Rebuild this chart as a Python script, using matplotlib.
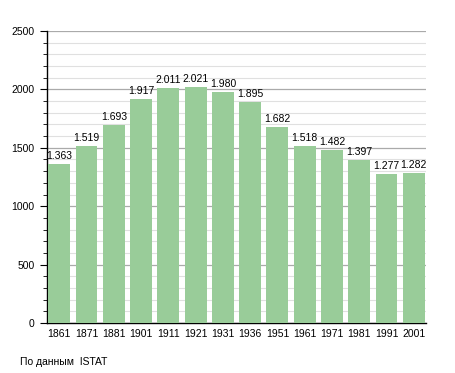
import matplotlib
matplotlib.use("Agg")
import matplotlib.pyplot as plt
from matplotlib.ticker import MultipleLocator

years = ["1861", "1871", "1881", "1901", "1911", "1921", "1931", "1936",
         "1951", "1961", "1971", "1981", "1991", "2001"]
population = [1363, 1519, 1693, 1917, 2011, 2021, 1980, 1895,
              1682, 1518, 1482, 1397, 1277, 1282]
source_text = "По данным  ISTAT"

plt.rcParams['font.family'] = ['Liberation Sans', 'DejaVu Sans']

fig = plt.figure(figsize=(4.55, 3.73), dpi=100)
ax = fig.add_axes([47/455, 1-323/373, (426-47)/455, (323-31)/373])

x = list(range(len(years)))
ax.bar(x, population, width=0.8, color="#99cc99", zorder=3)

for xi, v in zip(x, population):
    ax.text(xi, v + 25, f"{v:,}".replace(",", "."), ha="center", va="bottom",
            fontsize=7.5, color="black", zorder=4)

ax.set_xlim(-0.45, len(years) - 0.55)
ax.set_ylim(0, 2500)
ax.set_xticks(x)
ax.set_xticklabels(years, fontsize=7.5)
ax.tick_params(axis="x", length=0, pad=4)

ax.yaxis.set_major_locator(MultipleLocator(500))
ax.yaxis.set_minor_locator(MultipleLocator(100))
ax.tick_params(axis="y", which="major", length=5, width=0.8, labelsize=7.5, pad=4)
ax.tick_params(axis="y", which="minor", length=3, width=0.6)
ax.grid(axis="y", which="major", color="#aaaaaa", linewidth=0.9, zorder=0)
ax.grid(axis="y", which="minor", color="#e0e0e0", linewidth=0.8, zorder=0)

for s in ("top", "right"):
    ax.spines[s].set_visible(False)
ax.spines["left"].set_linewidth(1.0)
ax.spines["bottom"].set_linewidth(1.0)

fig.text(20/455, 1-362/373, source_text, fontsize=7.5, va="center", ha="left")

fig.savefig("out.png", dpi=100)
